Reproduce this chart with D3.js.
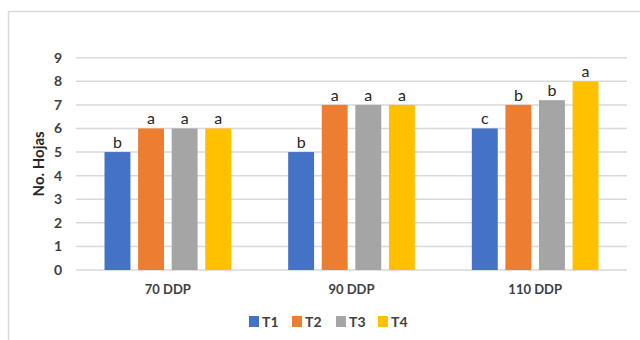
<!DOCTYPE html>
<html>
<head>
<meta charset="utf-8">
<script src="https://cdn.jsdelivr.net/npm/d3@7"></script>
<style>
  html, body { margin: 0; padding: 0; background: #fff; }
  svg { display: block; font-family: Lato, "Open Sans", sans-serif; }
</style>
</head>
<body>
<svg id="chart" width="640" height="340"></svg>
<script>
// Número de hojas por tratamiento en cada fecha de muestreo
const categories = ["70 DDP", "90 DDP", "110 DDP"];
const series = ["T1", "T2", "T3", "T4"];
const T1 = [5, 5, 6];
const T2 = [6, 7, 7];
const T3 = [6, 7, 7.2];
const T4 = [6, 7, 8];
const letters = {
  T1: ["b", "b", "c"],
  T2: ["a", "a", "b"],
  T3: ["a", "a", "b"],
  T4: ["a", "a", "a"]
};
const yTicks = [0, 1, 2, 3, 4, 5, 6, 7, 8, 9];
const colors = ["#4472C4", "#ED7D31", "#A5A5A5", "#FFC000"];

const values = { T1, T2, T3, T4 };
const svg = d3.select("#chart");

// Chart frame (cut off at right and bottom edges)
svg.append("rect")
  .attr("x", 8.5).attr("y", 11.5)
  .attr("width", 700).attr("height", 400)
  .attr("fill", "none").attr("stroke", "#d9d9d9").attr("stroke-width", 1.5);

const plot = { left: 76, right: 627, top: 57.7, bottom: 270 };

const x0 = d3.scaleBand().domain(categories).range([plot.left, plot.right]).padding(0);
const x1 = d3.scaleBand().domain(series)
  .range([28.5, x0.bandwidth() - 28.5]).paddingInner(0.228).paddingOuter(0);
const y = d3.scaleLinear().domain([0, 9]).range([plot.bottom, plot.top]);
const color = d3.scaleOrdinal().domain(series).range(colors);

// Gridlines
svg.append("g").selectAll("line").data(yTicks).join("line")
  .attr("x1", plot.left).attr("x2", plot.right)
  .attr("y1", d => y(d)).attr("y2", d => y(d))
  .attr("stroke", "#d9d9d9").attr("stroke-width", 1.5);

// Y axis tick labels
const yAxis = d3.axisLeft(y).tickValues(yTicks).tickSize(0).tickPadding(0);
const gy = svg.append("g").attr("transform", `translate(${plot.left - 14},0)`).call(yAxis);
gy.select(".domain").remove();
gy.selectAll("text")
  .attr("font-size", 14).attr("font-weight", "bold").attr("fill", "#404040")
  .attr("font-family", "Lato, sans-serif");

// Y axis title
svg.append("text")
  .attr("transform", `translate(44,${(plot.top + plot.bottom) / 2}) rotate(-90)`)
  .attr("text-anchor", "middle")
  .attr("font-size", 15).attr("font-weight", "bold").attr("fill", "#262626")
  .text("No. Hojas");

// Bars grouped by date
const groups = svg.append("g").selectAll("g").data(categories).join("g")
  .attr("transform", d => `translate(${x0(d)},0)`);

groups.selectAll("rect")
  .data((c, i) => series.map(s => ({ s, v: values[s][i], l: letters[s][i] })))
  .join("rect")
  .attr("x", d => x1(d.s))
  .attr("width", x1.bandwidth())
  .attr("y", d => y(d.v))
  .attr("height", d => y(0) - y(d.v))
  .attr("fill", d => color(d.s));

// Significance letters above bars
groups.selectAll("text.letter")
  .data((c, i) => series.map(s => ({ s, v: values[s][i], l: letters[s][i] })))
  .join("text")
  .attr("class", "letter")
  .attr("x", d => x1(d.s) + x1.bandwidth() / 2)
  .attr("y", d => y(d.v) - 4)
  .attr("text-anchor", "middle")
  .attr("font-size", 16).attr("fill", "#262626")
  .text(d => d.l);

// Category axis labels
const xAxis = d3.axisBottom(x0).tickSize(0).tickPadding(0);
const gx = svg.append("g").attr("transform", `translate(0,${plot.bottom + 16})`).call(xAxis);
gx.select(".domain").remove();
gx.selectAll("text")
  .attr("font-size", 13).attr("font-weight", "bold").attr("fill", "#404040")
  .attr("font-family", "Lato, sans-serif").attr("dy", "0.6em");

// Legend
const legendX = [249, 292, 336, 378];
const legend = svg.append("g").selectAll("g").data(series).join("g")
  .attr("transform", (d, i) => `translate(${legendX[i]},316)`);
legend.append("rect").attr("width", 10).attr("height", 11).attr("fill", d => color(d));
legend.append("text")
  .attr("x", 13).attr("y", 5.5).attr("dy", "0.36em")
  .attr("font-size", 14).attr("font-weight", "bold").attr("fill", "#404040")
  .text(d => d);
</script>
</body>
</html>
